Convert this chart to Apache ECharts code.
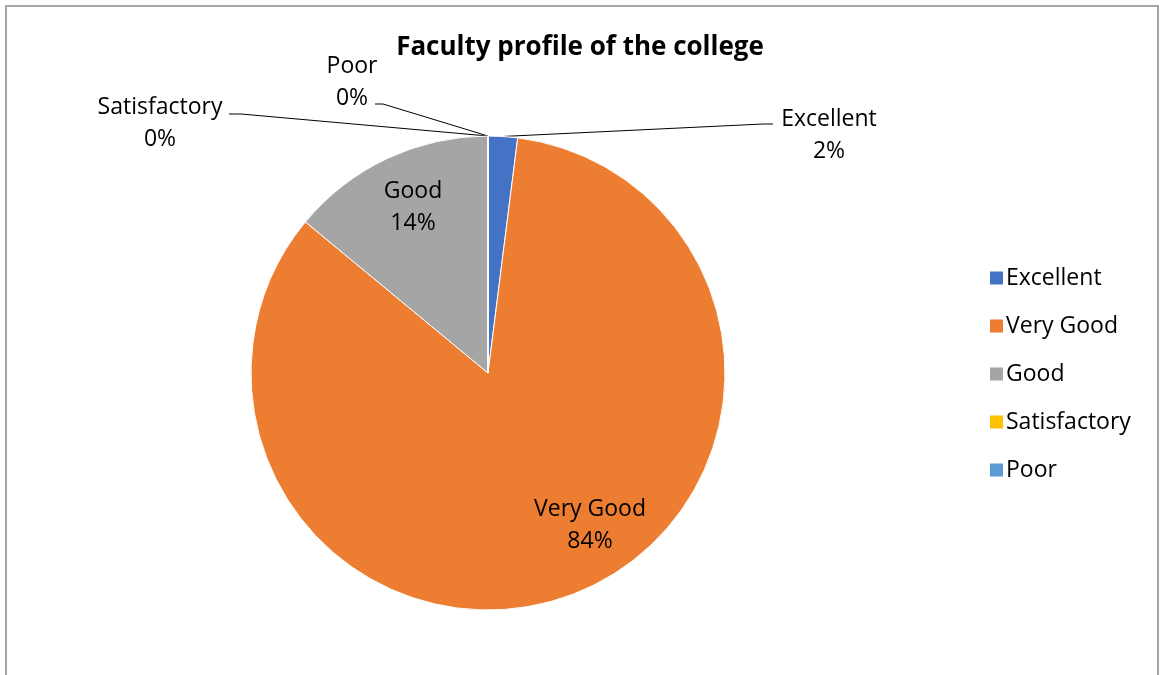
<!DOCTYPE html>
<html>
<head>
<meta charset="utf-8">
<script src="https://cdn.jsdelivr.net/npm/echarts@6/dist/echarts.min.js"></script>
<style>
  html, body { margin: 0; padding: 0; background: #fff; }
  #chart { width: 1160px; height: 675px; }
</style>
</head>
<body>
<div id="chart"></div>
<script>
// ---- data ----
const categories = ['Excellent', 'Very Good', 'Good', 'Satisfactory', 'Poor'];
const values = [2, 84, 14, 0, 0];
const colors = ['#4472C4', '#ED7D31', '#A5A5A5', '#FFC000', '#5B9BD5'];
const titleText = 'Faculty profile of the college';

// ---- label placement (layout only) ----
const FONT = '"Open Sans", Lato, "Liberation Sans", sans-serif';
const labelPlace = {
  'Excellent':    { x: 829, y: 135, inside: false, elbow: [763, 124], end: [773, 124] },
  'Very Good':    { x: 590, y: 525, inside: true },
  'Good':         { x: 413, y: 207, inside: true },
  'Satisfactory': { x: 160, y: 123, inside: false, elbow: [241, 114], end: [229, 114] },
  'Poor':         { x: 352, y: 82,  inside: false, elbow: [383, 104], end: [375, 104] }
};

const chart = echarts.init(document.getElementById('chart'));

const seriesData = categories.map((name, i) => {
  const p = labelPlace[name];
  return {
    name: name,
    value: values[i],
    itemStyle: { color: colors[i] },
    label: { position: p.inside ? 'inside' : 'outside' },
    labelLine: { show: !p.inside }
  };
});

chart.setOption({
  animation: false,
  backgroundColor: '#fff',
  graphic: [{
    type: 'rect',
    shape: { x: 6, y: 6, width: 1152, height: 700 },
    style: { fill: 'none', stroke: '#a6a6a6', lineWidth: 2 },
    silent: true
  }],
  title: {
    text: titleText,
    left: 'center',
    top: 30,
    textStyle: { fontFamily: FONT, fontWeight: 'bold', fontSize: 26, color: '#000' }
  },
  legend: {
    orient: 'vertical',
    left: 983,
    top: 261,
    itemWidth: 15,
    itemHeight: 15,
    itemGap: 24,
    icon: 'rect',
    data: categories,
    textStyle: { fontFamily: FONT, fontSize: 23, lineHeight: 24, color: '#000', padding: [0, 0, 0, -3] }
  },
  series: [{
    type: 'pie',
    center: [488, 373],
    radius: 237,
    startAngle: 90,
    clockwise: true,
    avoidLabelOverlap: false,
    itemStyle: { borderColor: '#fff', borderWidth: 1 },
    label: {
      show: true,
      fontFamily: FONT,
      fontSize: 23,
      lineHeight: 32,
      color: '#000',
      formatter: p => p.name + '\n' + Math.round(p.percent) + '%'
    },
    labelLine: {
      show: true,
      length: 20,
      length2: 10,
      lineStyle: { color: '#000', width: 1 }
    },
    labelLayout: function (params) {
      const name = categories[params.dataIndex];
      const p = labelPlace[name];
      const out = { x: p.x, y: p.y, align: 'center', verticalAlign: 'middle' };
      if (!p.inside && params.labelLinePoints) {
        out.labelLinePoints = [params.labelLinePoints[0], p.elbow, p.end];
      }
      return out;
    },
    emphasis: { disabled: true },
    data: seriesData
  }]
});
</script>
</body>
</html>
